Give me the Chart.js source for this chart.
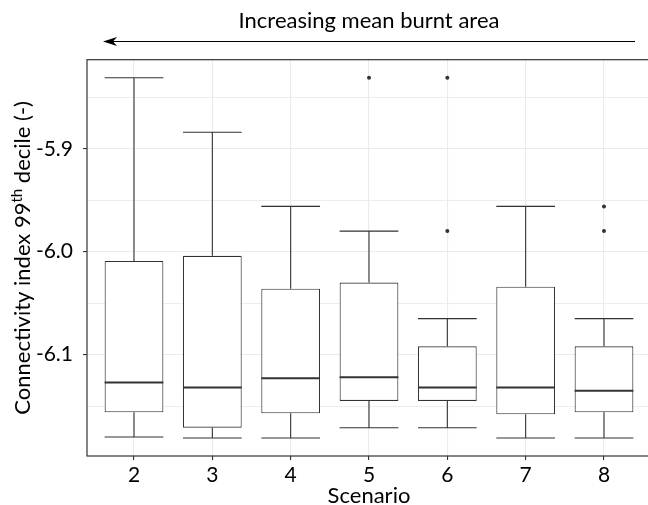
<!DOCTYPE html>
<html><head><meta charset="utf-8">
<script src="https://cdn.jsdelivr.net/npm/chart.js@4"></script>
<style>
html,body{margin:0;padding:0;overflow:hidden;background:#fff}
#wrap{position:relative;width:653px;height:505px}
</style>
</head><body><div id="wrap"><canvas id="c"></canvas></div>
<script>
// ---- data ----
const scenarios     = ['2', '3', '4', '5', '6', '7', '8'];
const lowerWhisker  = [-6.180, -6.181, -6.181, -6.171, -6.171, -6.181, -6.181];
const q1            = [-6.156, -6.171, -6.157, -6.145, -6.145, -6.158, -6.156];
const median        = [-6.127, -6.132, -6.123, -6.122, -6.132, -6.132, -6.135];
const q3            = [-6.009, -6.004, -6.036, -6.030, -6.092, -6.034, -6.092];
const upperWhisker  = [-5.831, -5.884, -5.956, -5.980, -6.065, -5.956, -6.065];
const outlierScenario = ['5', '6', '6', '8', '8'];
const outlierValue    = [-5.831, -5.831, -5.980, -5.956, -5.980];
const yMajorTicks = [-5.9, -6.0, -6.1];
const yMinorTicks = [-5.85, -5.95, -6.05, -6.15];
const titleText = 'Increasing mean burnt area';
const xTitle = 'Scenario';
const yTitleParts = ['Connectivity index 99', 'th', ' decile (-)'];

const FONT = 'Lato';
const positions = scenarios.map((s, i) => i + 1);
const boxData = positions.map((p, i) => ({x: p, y: [q1[i], q3[i]]}));
const outlierData = outlierScenario.map((s, i) => ({x: scenarios.indexOf(s) + 1, y: outlierValue[i]}));
const allVals = lowerWhisker.concat(upperWhisker, outlierValue);
const lo = Math.min(...allVals), hi = Math.max(...allVals), pad = (hi - lo) * 0.05;
const isMajor = v => yMajorTicks.some(m => Math.abs(m - v) < 1e-9);

const boxParts = {
  id: 'boxParts',
  afterDatasetsDraw(chart) {
    const {ctx, scales: {x, y}} = chart;
    const meta = chart.getDatasetMeta(0);
    ctx.save();
    ctx.strokeStyle = '#333333';
    ctx.lineCap = 'butt';
    positions.forEach((p, i) => {
      const cx = x.getPixelForValue(p);
      const hw = meta.data[i].width / 2;
      const yU = y.getPixelForValue(upperWhisker[i]);
      const yL = y.getPixelForValue(lowerWhisker[i]);
      const yQ3 = y.getPixelForValue(q3[i]);
      const yQ1 = y.getPixelForValue(q1[i]);
      const yM = y.getPixelForValue(median[i]);
      ctx.lineWidth = 1.1;
      ctx.beginPath();
      ctx.moveTo(cx, yQ3); ctx.lineTo(cx, yU);
      ctx.moveTo(cx, yQ1); ctx.lineTo(cx, yL);
      ctx.moveTo(cx - hw, yU); ctx.lineTo(cx + hw, yU);
      ctx.moveTo(cx - hw, yL); ctx.lineTo(cx + hw, yL);
      ctx.stroke();
      ctx.lineWidth = 2;
      ctx.beginPath();
      ctx.moveTo(cx - hw, yM); ctx.lineTo(cx + hw, yM);
      ctx.stroke();
    });
    // panel border
    const a = chart.chartArea;
    ctx.lineWidth = 1.2;
    ctx.strokeStyle = '#333333';
    ctx.strokeRect(a.left, a.top, a.right - a.left, a.bottom - a.top);
    ctx.restore();
  },
  afterDraw(chart) {
    const {ctx} = chart;
    const a = chart.chartArea;
    ctx.save();
    // arrow
    const yA = 41.5, x0 = a.right - 16, x1 = a.left + 16;
    ctx.strokeStyle = '#000';
    ctx.fillStyle = '#000';
    ctx.lineWidth = 1;
    ctx.beginPath(); ctx.moveTo(x0, yA); ctx.lineTo(x1 + 8, yA); ctx.stroke();
    ctx.beginPath();
    ctx.moveTo(x1, yA); ctx.lineTo(x1 + 14, yA - 4.5); ctx.lineTo(x1 + 10, yA);
    ctx.lineTo(x1 + 14, yA + 4.5); ctx.closePath(); ctx.fill();
    // y-axis title with superscript
    const big = '22px ' + FONT, small = '15px ' + FONT;
    ctx.font = big; const w1 = ctx.measureText(yTitleParts[0]).width, w3 = ctx.measureText(yTitleParts[2]).width;
    ctx.font = small; const w2 = ctx.measureText(yTitleParts[1]).width;
    const total = w1 + w2 + w3;
    const cy = (a.top + a.bottom) / 2;
    ctx.translate(30, cy);
    ctx.rotate(-Math.PI / 2);
    ctx.textBaseline = 'alphabetic';
    ctx.textAlign = 'left';
    ctx.fillStyle = '#000';
    let sx = -total / 2;
    ctx.font = big; ctx.fillText(yTitleParts[0], sx, 0); sx += w1;
    ctx.font = small; ctx.fillText(yTitleParts[1], sx, -8); sx += w2;
    ctx.font = big; ctx.fillText(yTitleParts[2], sx, 0);
    ctx.restore();
  }
};

new Chart(document.getElementById('c'), {
  type: 'bar',
  data: {
    datasets: [
      {
        type: 'bar',
        data: boxData,
        backgroundColor: '#ffffff',
        borderColor: '#333333',
        borderWidth: 1.1,
        borderSkipped: false,
        barPercentage: 0.75,
        categoryPercentage: 1,
        grouped: false
      },
      {
        type: 'scatter',
        data: outlierData,
        pointRadius: 2,
        pointBackgroundColor: '#333333',
        pointBorderWidth: 0,
        pointHoverRadius: 2
      }
    ]
  },
  plugins: [boxParts],
  options: {
    responsive: true,
    maintainAspectRatio: false,
    animation: false,
    events: [],
    layout: {padding: {left: 0, right: 0, top: 0, bottom: 0}},
    plugins: {
      legend: {display: false},
      tooltip: {enabled: false},
      title: {
        display: true,
        text: titleText,
        fullSize: false,
        color: '#000',
        font: {family: FONT, size: 22, weight: 'normal', lineHeight: 1.2},
        padding: {top: 8, bottom: 25.3}
      }
    },
    scales: {
      x: {
        type: 'linear',
        min: 0.4,
        max: 7.6,
        offset: false,
        afterBuildTicks: s => { s.ticks = positions.map(v => ({value: v})); },
        afterFit: s => { s.height = 49; },
        ticks: {
          autoSkip: false,
          color: '#000',
          padding: 3,
          font: {family: FONT, size: 21},
          callback: v => scenarios[Math.round(v) - 1]
        },
        grid: {offset: false, color: '#ebebeb', lineWidth: 1.1, tickColor: '#333333', tickLength: 4, tickWidth: 1.1},
        border: {display: false},
        title: {display: true, text: xTitle, color: '#000', font: {family: FONT, size: 22, lineHeight: 0.8}, padding: 0}
      },
      y: {
        type: 'linear',
        min: lo - pad,
        max: hi + pad,
        afterBuildTicks: s => {
          s.ticks = yMajorTicks.concat(yMinorTicks).sort((a, b) => a - b).map(v => ({value: v}));
        },
        afterFit: s => { s.width = 87; },
        ticks: {
          autoSkip: false,
          color: '#000',
          padding: 10,
          font: {family: FONT, size: 21},
          callback: v => isMajor(v) ? v.toFixed(1) : ''
        },
        grid: {
          color: '#ebebeb',
          lineWidth: ctx => isMajor(ctx.tick.value) ? 1.1 : 0.9,
          tickColor: ctx => isMajor(ctx.tick.value) ? '#333333' : 'rgba(0,0,0,0)',
          tickLength: 4,
          tickWidth: 1.1
        },
        border: {display: false}
      }
    }
  }
});
</script>
</body></html>
